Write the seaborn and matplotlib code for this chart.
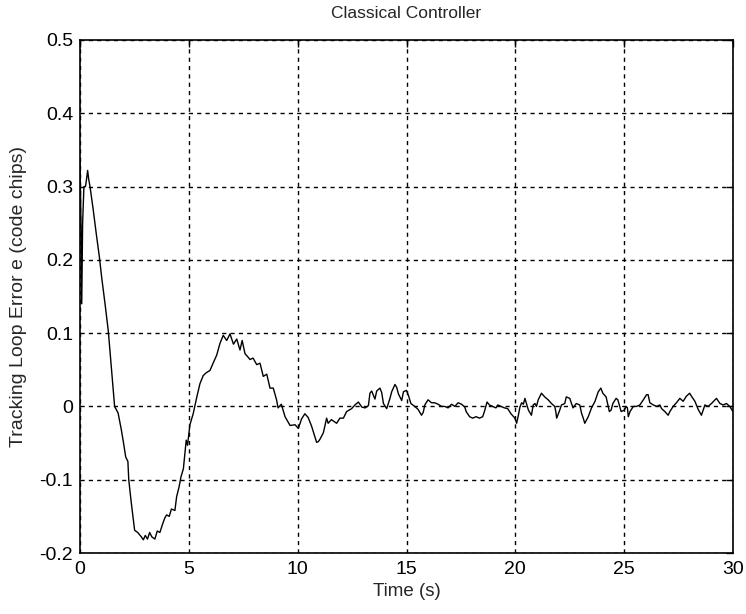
import matplotlib
matplotlib.use("Agg")
import matplotlib.pyplot as plt
import seaborn as sns
import pandas as pd

time_s = [0.00, 0.05, 0.08, 0.12, 0.18, 0.25, 0.30, 0.35, 0.40, 0.46,
          0.60, 0.75, 0.89, 1.00, 1.15, 1.30, 1.45, 1.59, 1.75, 1.90,
          2.00, 2.10, 2.20, 2.24, 2.35, 2.51, 2.65, 2.82, 2.91, 3.00,
          3.10, 3.20, 3.30, 3.44, 3.55, 3.67, 3.80, 3.90, 3.98, 4.10,
          4.20, 4.36, 4.44, 4.55, 4.64, 4.75, 4.88, 4.94, 5.05, 5.20,
          5.36, 5.51, 5.66, 5.80, 5.97, 6.10, 6.28, 6.43, 6.58, 6.74,
          6.89, 7.05, 7.20, 7.35, 7.45, 7.58, 7.70, 7.81, 7.95, 8.12,
          8.27, 8.42, 8.58, 8.73, 8.88, 9.03, 9.10, 9.25, 9.42, 9.65,
          9.88, 10.03, 10.18, 10.33, 10.48, 10.64, 10.87, 10.95, 11.02, 11.18,
          11.33, 11.40, 11.55, 11.79, 11.94, 12.10, 12.25, 12.48, 12.63, 12.79,
          12.95, 13.10, 13.25, 13.32, 13.40, 13.55, 13.63, 13.78, 13.86, 13.94,
          14.09, 14.24, 14.32, 14.47, 14.55, 14.63, 14.78, 14.86, 15.00, 15.10,
          15.20, 15.38, 15.53, 15.69, 15.77, 15.84, 15.99, 16.15, 16.30, 16.45,
          16.61, 16.76, 16.91, 17.07, 17.22, 17.37, 17.53, 17.68, 17.74, 17.83,
          17.90, 18.04, 18.20, 18.35, 18.50, 18.58, 18.70, 18.81, 18.96, 19.11,
          19.19, 19.34, 19.50, 19.65, 19.80, 19.98, 20.06, 20.14, 20.21, 20.29,
          20.37, 20.44, 20.60, 20.74, 20.82, 20.90, 20.97, 21.05, 21.20, 21.35,
          21.51, 21.66, 21.81, 21.86, 21.90, 22.04, 22.12, 22.27, 22.34, 22.50,
          22.65, 22.80, 22.96, 23.04, 23.12, 23.19, 23.35, 23.50, 23.66, 23.81,
          23.93, 24.02, 24.17, 24.32, 24.40, 24.48, 24.63, 24.71, 24.86, 25.01,
          25.09, 25.15, 25.19, 25.27, 25.42, 25.57, 25.72, 25.88, 26.03, 26.10,
          26.18, 26.34, 26.49, 26.64, 26.72, 26.87, 27.02, 27.10, 27.25, 27.40,
          27.56, 27.71, 27.86, 28.01, 28.09, 28.25, 28.40, 28.55, 28.71, 28.86,
          29.01, 29.24, 29.40, 29.55, 29.70, 29.85, 30.00]

error_chips = [0.335, 0.240, 0.140, 0.250, 0.300, 0.300, 0.310, 0.322, 0.310, 0.300,
               0.270, 0.235, 0.204, 0.175, 0.140, 0.103, 0.050, 0.000, -0.009, -0.032,
               -0.050, -0.069, -0.075, -0.100, -0.130, -0.169, -0.172, -0.178, -0.182, -0.176,
               -0.181, -0.172, -0.178, -0.181, -0.170, -0.172, -0.160, -0.152, -0.148, -0.150,
               -0.140, -0.142, -0.123, -0.110, -0.096, -0.085, -0.046, -0.053, -0.025, -0.010,
               0.012, 0.031, 0.042, 0.046, 0.049, 0.058, 0.070, 0.086, 0.097, 0.090,
               0.099, 0.085, 0.092, 0.077, 0.090, 0.072, 0.068, 0.064, 0.066, 0.057,
               0.059, 0.041, 0.044, 0.025, 0.025, 0.009, -0.002, 0.003, -0.014, -0.026,
               -0.025, -0.030, -0.017, -0.010, -0.015, -0.027, -0.049, -0.048, -0.045, -0.036,
               -0.016, -0.023, -0.018, -0.023, -0.016, -0.016, -0.007, -0.003, 0.002, 0.006,
               -0.001, -0.002, 0.001, 0.018, 0.021, 0.010, 0.021, 0.025, 0.019, 0.004,
               -0.003, 0.011, 0.020, 0.030, 0.026, 0.017, 0.008, 0.020, 0.022, 0.014,
               0.004, 0.000, -0.004, -0.012, -0.008, 0.002, 0.009, 0.005, 0.005, 0.003,
               0.000, 0.000, -0.002, 0.003, 0.000, 0.005, 0.003, -0.001, -0.007, -0.011,
               -0.014, -0.016, -0.014, -0.016, -0.014, -0.007, 0.006, 0.002, 0.000, -0.002,
               0.002, 0.000, -0.002, -0.003, -0.010, -0.016, -0.023, -0.012, -0.001, 0.005,
               0.003, 0.011, -0.005, -0.012, 0.002, 0.004, 0.000, 0.009, 0.018, 0.013,
               0.009, 0.004, 0.000, -0.007, -0.016, -0.005, 0.002, 0.004, 0.013, 0.011,
               -0.002, 0.004, 0.002, -0.009, -0.016, -0.023, -0.014, -0.002, 0.007, 0.020,
               0.025, 0.018, 0.013, -0.007, -0.005, 0.004, 0.011, 0.009, -0.007, -0.005,
               0.000, -0.002, -0.014, -0.007, 0.000, 0.000, 0.002, 0.009, 0.016, 0.016,
               0.005, 0.002, 0.000, 0.002, -0.003, -0.007, -0.012, -0.007, 0.000, 0.005,
               0.011, 0.007, 0.014, 0.018, 0.014, 0.007, -0.004, -0.012, 0.002, 0.000,
               0.004, 0.011, 0.004, 0.002, 0.004, 0.000, -0.007]

x_ticks = [0, 5, 10, 15, 20, 25, 30]
y_ticks = [-0.2, -0.1, 0, 0.1, 0.2, 0.3, 0.4, 0.5]
y_tick_labels = ["-0.2", "-0.1", "0", "0.1", "0.2", "0.3", "0.4", "0.5"]

sns.set_style("white")
plt.rcParams['font.family'] = ['Liberation Sans', 'DejaVu Sans']

df = pd.DataFrame({"t": time_s, "e": error_chips})

fig = plt.figure(figsize=(7.46, 6.14), dpi=100)
ax = fig.add_axes([80/746, 61/614, 653/746, 513/614])
sns.lineplot(data=df, x="t", y="e", ax=ax, color="black", linewidth=1.0, sort=False)

ax.set_xlim(0, 30)
ax.set_ylim(-0.2, 0.5)
ax.set_xticks(x_ticks)
ax.set_xticklabels([str(v) for v in x_ticks])
ax.set_yticks(y_ticks)
ax.set_yticklabels(y_tick_labels)
ax.grid(True, color="black", linestyle=(0, (3, 3)), linewidth=1.0)
ax.tick_params(direction="in", top=True, right=True, length=5, width=1,
               labelsize=14, colors="black")
ax.tick_params(axis="x", pad=6)
ax.tick_params(axis="y", pad=5)
for sp in ax.spines.values():
    sp.set_visible(True)
    sp.set_color("black")
    sp.set_linewidth(1.2)

ax.set_xlabel("Time (s)", fontsize=13.5, labelpad=3)
ax.set_ylabel("Tracking Loop Error e (code chips)", fontsize=14, labelpad=9)
ax.set_title("Classical Controller", fontsize=12.5, pad=16)

fig.savefig("out.png", dpi=100, facecolor="white")
